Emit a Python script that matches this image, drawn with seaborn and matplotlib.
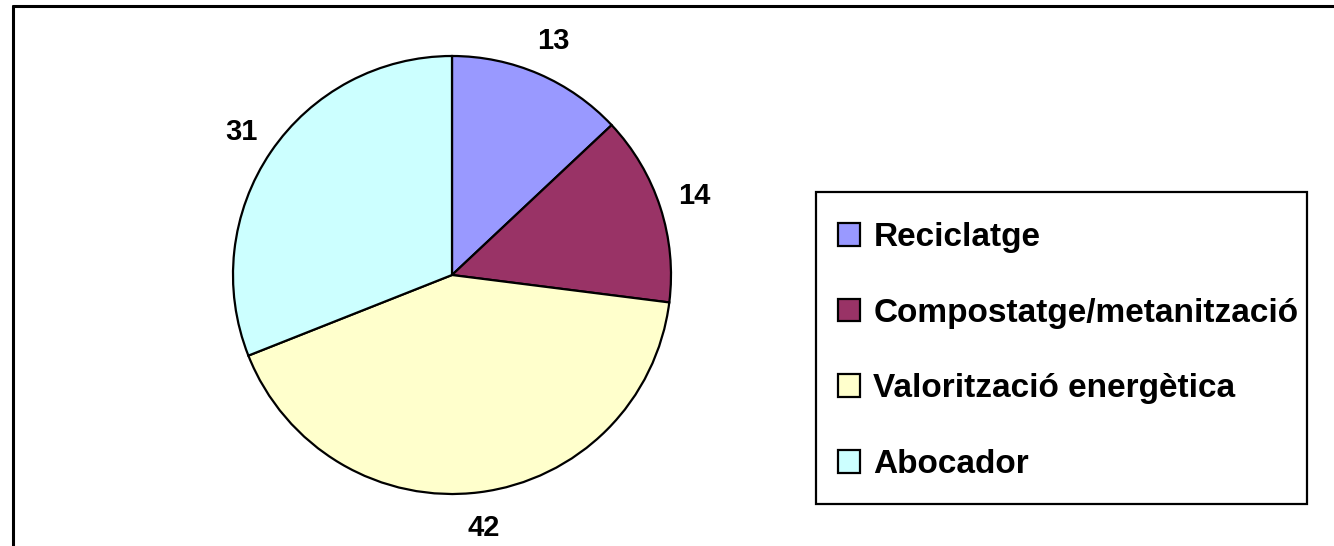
import matplotlib
matplotlib.use("Agg")
import matplotlib.pyplot as plt
from matplotlib.lines import Line2D
from matplotlib.patches import Rectangle
import seaborn as sns

categories = ["Reciclatge", "Compostatge/metanització", "Valorització energètica", "Abocador"]
values = [13, 14, 42, 31]
colors = ["#9999FF", "#993366", "#FFFFCC", "#CCFFFF"]

sns.set_theme(style="white")
plt.rcParams["font.family"] = ["Liberation Sans", "DejaVu Sans"]
plt.rcParams["text.color"] = "black"

W, H = 1334, 546
fig = plt.figure(figsize=(W / 100, H / 100), dpi=100)
fig.patch.set_facecolor("white")

cx, cy, r = 452, 271, 219
ax = fig.add_axes([(cx - r) / W, (cy - r) / H, 2 * r / W, 2 * r / H])
palette = sns.color_palette(colors)
wedges, texts = ax.pie(
    values,
    labels=[str(v) for v in values],
    colors=palette,
    startangle=90,
    counterclock=False,
    labeldistance=1.165,
    wedgeprops=dict(edgecolor="black", linewidth=1.6),
    textprops=dict(fontsize=21, fontweight="bold", color="black"),
)
for t in texts:
    t.set_horizontalalignment("center")
    t.set_verticalalignment("center")
ax.set_xlim(-1, 1)
ax.set_ylim(-1, 1)
ax.set_aspect("auto")
ax.axis("off")

# legend box frame
bx0, by0, bx1, by1 = 816, 192, 1307, 504
fig.add_artist(Rectangle((bx0 / W, 1 - by1 / H), (bx1 - bx0) / W, (by1 - by0) / H,
                         transform=fig.transFigure, facecolor="white",
                         edgecolor="black", linewidth=1.6, zorder=1))

leg = fig.legend(
    wedges,
    categories,
    loc="upper left",
    bbox_to_anchor=(bx0 / W, 1 - (by0 + 8) / H),
    borderaxespad=0,
    frameon=False,
    labelcolor="black",
    prop=dict(size=24, weight="bold"),
    handlelength=0.66,
    handleheight=0.66,
    handletextpad=0.4,
    labelspacing=1.34,
    borderpad=0.66,
)
leg.set_zorder(2)
for h in leg.legend_handles:
    h.set_edgecolor("black")
    h.set_linewidth(1.6)

# outer frame (top and left edges visible)
x0 = 13.5 / W
y0 = 1 - 5.5 / H
fig.add_artist(Line2D([x0, x0], [y0, -0.01], transform=fig.transFigure, color="black", lw=2.2))
fig.add_artist(Line2D([x0, 1.01], [y0, y0], transform=fig.transFigure, color="black", lw=2.2))

fig.savefig("out.png", dpi=100, facecolor="white")
